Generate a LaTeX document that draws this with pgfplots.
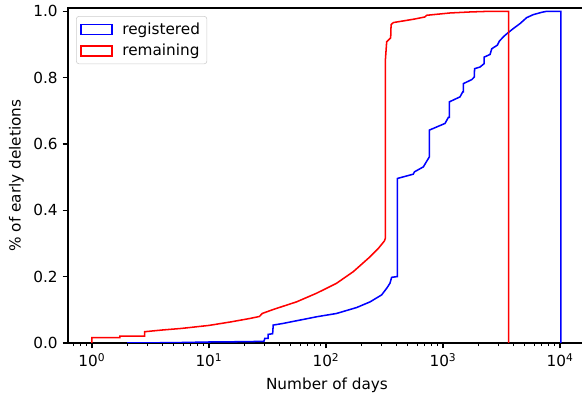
\documentclass[border=0pt]{standalone}
\usepackage{fontspec}
\setmainfont{DejaVu Sans}
\usepackage{pgfplots}
\pgfplotsset{compat=1.18}

\begin{document}
\begin{tikzpicture}
\begin{axis}[
  name=ax,
  scale only axis,
  width=372.96pt, height=241.2pt,
  xmode=log,
  xmin=0.624, xmax=16670,
  ymin=0, ymax=1.01,
  xtick={1,10,100,1000,10000},
  xticklabels={10\textsuperscript{0},10\textsuperscript{1},10\textsuperscript{2},10\textsuperscript{3},10\textsuperscript{4}},
  minor xtick={0.7,0.8,0.9,2,3,4,5,6,7,8,9,20,30,40,50,60,70,80,90,200,300,400,500,600,700,800,900,2000,3000,4000,5000,6000,7000,8000,9000},
  ytick={0,0.2,0.4,0.6,0.8,1.0},
  /pgf/number format/assume math mode=true,
  yticklabel style={/pgf/number format/fixed,/pgf/number format/fixed zerofill,/pgf/number format/precision=1},
  tick pos=left,
  tick align=outside,
  major tick length=3.9pt,
  minor tick length=2.2pt,
  every tick/.style={black, line width=0.9pt},
  minor tick style={black, line width=0.65pt},
  axis line style={line width=0.9pt},
  tick label style={font=\fontsize{11}{13}\selectfont},
  label style={font=\fontsize{11}{13}\selectfont},
  xlabel={Number of days},
  ylabel={\% of early deletions},
  xlabel style={yshift=-1pt},
  legend style={at={(0,1)}, anchor=north west, xshift=5.8pt, yshift=-5.8pt,
    draw=black!20, rounded corners=2pt, fill=white,
    inner xsep=3pt, inner ysep=2.5pt, row sep=1.5pt, cells={anchor=west},
    /tikz/every odd column/.style={column sep=5pt},
    font=\fontsize{11}{13}\selectfont},
  legend image code/.code={\draw[#1, line width=1.1pt, sharp corners, line join=miter, fill=none] (0pt,-3.6pt) rectangle (22pt,3.6pt);},
]
\addplot[blue, line width=1.1pt] coordinates {
(2,0) (5,0.001) (10,0.003) (20,0.004) (29.5,0.005) (30,0.014) (32,0.014) (32,0.026)
(35,0.028) (35.4,0.054) (43,0.059) (83,0.079) (123,0.089) (183,0.107) (238,0.124)
(299,0.145) (330,0.165) (352,0.18) (364,0.198) (402,0.2) (407,0.2) (407,0.496)
(557,0.509) (570,0.516) (679,0.531) (734,0.551) (764,0.561) (766,0.642)
(1040,0.662) (1110,0.680) (1132,0.68) (1132,0.727) (1397,0.742) (1473,0.757)
(1492,0.757) (1492,0.782) (1759,0.794) (1852,0.802) (1860,0.827) (2071,0.832)
(2240,0.842) (2250,0.862) (2523,0.870) (2608,0.887) (2912,0.898) (3029,0.910)
(3320,0.925) (3613,0.936) (3990,0.948) (4550,0.963) (5190,0.981) (5910,0.99)
(6980,0.997) (7690,1.0) (10150,1.0) (10150,0)
};
\addlegendentry{registered}
\addplot[red, line width=1.1pt] coordinates {
(1,0) (1,0.016) (1.73,0.016) (1.73,0.021) (2.82,0.021) (2.82,0.034) (3.94,0.039)
(5.84,0.044) (10,0.053) (15.6,0.064) (22.4,0.074) (27,0.080) (28.5,0.089)
(35.4,0.101) (56,0.124) (83,0.150) (123,0.180) (171,0.215) (238,0.26) (280,0.285)
(316,0.308) (321,0.315) (321,0.848) (330,0.908) (357,0.92) (360,0.960) (376,0.966)
(557,0.976) (636,0.98) (700,0.983) (725,0.988) (1150,0.995) (1700,0.998) (2500,1.0)
(3640,1.0) (3640,0)
};
\addlegendentry{remaining}
\end{axis}
\pgfresetboundingbox
\path ([shift={(-48.96pt,-38.16pt)}]ax.south west) rectangle ([shift={(370.08pt,246.96pt)}]ax.south west);
\end{tikzpicture}
\end{document}
